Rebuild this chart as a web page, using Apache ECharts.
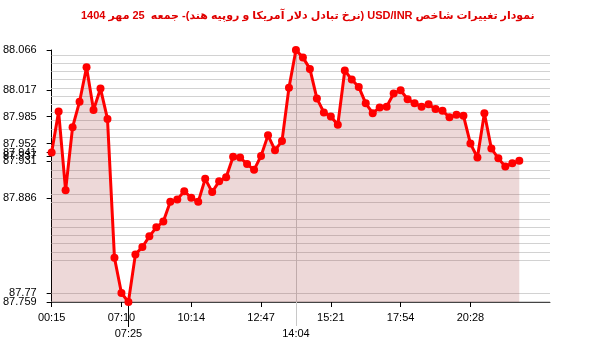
<!DOCTYPE html>
<html>
<head>
<meta charset="utf-8">
<script src="https://cdn.jsdelivr.net/npm/echarts@6/dist/echarts.min.js"></script>
<style>html,body{margin:0;padding:0;background:#fff}#c{width:600px;height:352px}</style>
</head>
<body>
<div id="c"></div>
<script>
var titleText = 'نمودار تغییرات شاخص USD/INR (نرخ تبادل دلار آمریکا و روپیه هند)- جمعه  25 مهر 1404';
var times = ['00:15','00:45','01:20','02:05','03:00','03:50','04:40','05:30','06:15','06:55',
  '07:10','07:25','07:42','08:00','08:18','08:37','08:56','09:15','09:35','09:55',
  '10:14','10:29','10:45','11:00','11:15','11:30','11:46','12:01','12:16','12:32',
  '12:47','13:02','13:18','13:33','13:49','14:04','14:19','14:35','14:50','15:05',
  '15:21','15:36','15:51','16:07','16:22','16:37','16:53','17:08','17:23','17:39',
  '17:54','18:09','18:25','18:40','18:55','19:11','19:26','19:42','19:57','20:12',
  '20:28','20:43','20:58','21:14','21:29','21:44','22:00','22:15'];
var values = [87.941,87.991,87.895,87.972,88.003,88.045,87.993,88.019,87.982,87.813,
  87.77,87.759,87.817,87.826,87.839,87.850,87.857,87.881,87.884,87.894,
  87.886,87.881,87.909,87.893,87.906,87.911,87.936,87.935,87.927,87.920,
  87.937,87.962,87.944,87.955,88.020,88.066,88.057,88.043,88.007,87.990,
  87.985,87.975,88.041,88.030,88.021,88.001,87.989,87.996,87.997,88.013,
  88.017,88.006,88.001,87.997,88.000,87.994,87.992,87.984,87.987,87.986,
  87.952,87.935,87.989,87.946,87.934,87.924,87.928,87.931];
var yTicks = [87.886,87.759,87.77,87.931,87.937,87.941,87.952,87.985,88.017,88.066];
var xTickIdx = [0,10,20,30,40,50,60];
var xMax = 71.4;

var yMin = Math.min.apply(null, values), yMax = Math.max.apply(null, values);
var minIdx = values.indexOf(yMin), maxIdx = values.indexOf(yMax);
var pts = values.map(function(v,i){return [i,v];});
var FONT = 'Liberation Sans, DejaVu Sans, Arial, sans-serif';
function tl(v){ var i = Math.round(v); return (Math.abs(v-i)<1e-6 && times[i]) ? times[i] : ''; }

var chart = echarts.init(document.getElementById('c'), null, {renderer:'canvas'});
chart.setOption({
  animation: false,
  title: { text: '\u202B' + titleText + '\u202C', left: 81, top: 10, padding: 0,
    textStyle: { color: '#e00000', fontSize: 11, fontWeight: 'bold', fontFamily: FONT } },
  grid: { left: 50, right: 50, top: 50, bottom: 50 },
  xAxis: [
    { type: 'value', min: 0, max: xMax, gridIndex: 0, position: 'bottom',
      axisLine: { show: true, lineStyle: { color: '#444', width: 1 } },
      axisTick: { show: true, customValues: xTickIdx, length: 5, lineStyle: { color: '#000' } },
      axisLabel: { customValues: xTickIdx, formatter: tl, margin: 10, color: '#000', fontSize: 11, fontFamily: FONT },
      splitLine: { show: false } },
    { type: 'value', min: 0, max: xMax, gridIndex: 0, position: 'bottom',
      axisLine: { show: false },
      axisTick: { show: true, customValues: [minIdx], length: 25, lineStyle: { color: '#000' } },
      axisLabel: { customValues: [minIdx], formatter: tl, margin: 26, color: '#000', fontSize: 11, fontFamily: FONT },
      splitLine: { show: false } },
    { type: 'value', min: 0, max: xMax, gridIndex: 0, position: 'bottom',
      axisLine: { show: false },
      axisTick: { show: true, customValues: [maxIdx], length: 24, lineStyle: { color: '#c8c8c8' } },
      axisLabel: { customValues: [maxIdx], formatter: tl, margin: 26, color: '#000', fontSize: 11, fontFamily: FONT },
      splitLine: { show: false } }
  ],
  yAxis: { type: 'value', min: yMin, max: yMax,
    axisLine: { show: true, lineStyle: { color: '#000', width: 1 } },
    axisTick: { show: true, customValues: yTicks, length: 5, lineStyle: { color: '#000' } },
    axisLabel: { customValues: yTicks, hideOverlap: false,
      formatter: function(v){return String(v);}, margin: 15, color: '#000', fontSize: 11, fontFamily: FONT },
    splitLine: { show: false } },
  series: [
    { type: 'line', data: [], xAxisIndex: 0, z: 1,
      markLine: { silent: true, symbol: 'none', z: 1, label: { show: false },
        lineStyle: { color: '#d2d2d2', type: 'solid', width: 1 },
        data: values.map(function(v){return {yAxis: v};}).concat([{ xAxis: maxIdx, lineStyle: { color: '#c8c8c8' } }]) } },
    { type: 'line', data: pts, xAxisIndex: 0, z: 3,
      symbol: 'circle', symbolSize: 8,
      itemStyle: { color: '#ff0000' },
      lineStyle: { color: '#ff0000', width: 3 },
      areaStyle: { color: 'rgba(160,50,50,0.27)', origin: 'start' } }
  ]
});
</script>
</body>
</html>
